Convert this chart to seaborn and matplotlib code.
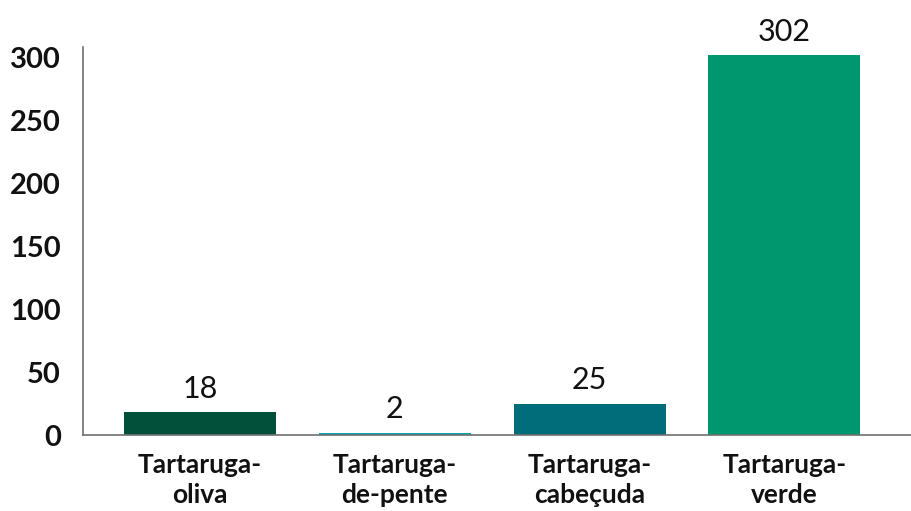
import matplotlib
matplotlib.use("Agg")
import matplotlib.pyplot as plt
import seaborn as sns
import pandas as pd

categorias = ["Tartaruga-\noliva", "Tartaruga-\nde-pente", "Tartaruga-\ncabeçuda", "Tartaruga-\nverde"]
valores = [18, 2, 25, 302]
cores = ["#024f3a", "#00a9b4", "#016c7a", "#00976f"]
y_ticks = [0, 50, 100, 150, 200, 250, 300]

sns.set_style("white")
plt.rcParams["font.family"] = ["Lato", "DejaVu Sans"]

df = pd.DataFrame({"especie": categorias, "n": valores})

fig = plt.figure(figsize=(9.11, 5.11), dpi=100)
ax = fig.add_axes([0.0911, 0.1487, 0.9089, 0.7593])

sns.barplot(data=df, x="especie", y="n", hue="especie", palette=cores,
            width=0.78, saturation=1, linewidth=0, legend=False, ax=ax)

ax.set_ylim(0, 308.7)
ax.set_xlim(-0.60, 3.65)
ax.set_yticks(y_ticks)
ax.set_xlabel("")
ax.set_ylabel("")
ax.tick_params(axis="y", length=0, pad=16, labelsize=21)
ax.tick_params(axis="x", length=0, pad=13, labelsize=19)
for lab in ax.get_yticklabels() + ax.get_xticklabels():
    lab.set_fontweight("bold")
    lab.set_color("#111111")
for lab in ax.get_xticklabels():
    lab.set_linespacing(1.3)

for s in ["top", "right"]:
    ax.spines[s].set_visible(False)
for s in ["left", "bottom"]:
    ax.spines[s].set_color("#707070")
    ax.spines[s].set_linewidth(1.2)
ax.set_axisbelow(False)

for i, v in enumerate(valores):
    ax.annotate(str(v), (i, v), xytext=(0, 7), textcoords="offset points",
                ha="center", va="bottom", fontsize=22, fontweight="normal",
                color="#111111")

fig.savefig("out.png", dpi=100)
